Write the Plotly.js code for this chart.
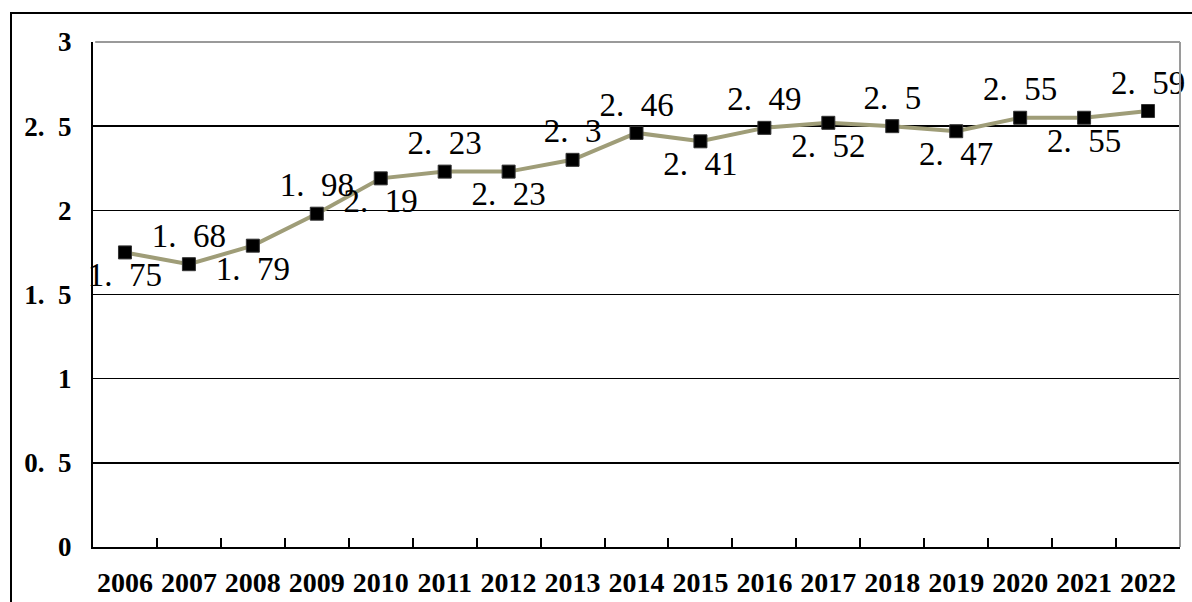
<!DOCTYPE html>
<html>
<head>
<meta charset="utf-8">
<script src="https://cdn.plot.ly/plotly-3.0.1.min.js"></script>
<style>
  html, body { margin: 0; padding: 0; background: #fff; }
  #frame { position: absolute; left: 10px; top: 12px; width: 1182px; height: 590px;
           border-left: 2px solid #000; border-top: 2px solid #000; overflow: hidden; }
  #chart { width: 1180px; height: 588px; }
</style>
</head>
<body>
<div id="frame"><div id="chart"></div></div>
<script>
const years = ['2006','2007','2008','2009','2010','2011','2012','2013','2014','2015','2016','2017','2018','2019','2020','2021','2022'];
const values = [1.75, 1.68, 1.79, 1.98, 2.19, 2.23, 2.23, 2.3, 2.46, 2.41, 2.49, 2.52, 2.5, 2.47, 2.55, 2.55, 2.59];
const labelSide = ['bottom','top','bottom','top','bottom','top','bottom','top','top','bottom','top','bottom','top','bottom','top','bottom','top'];
const yTicks = [0, 0.5, 1, 1.5, 2, 2.5, 3];

const SERIF = 'Liberation Serif';
const fmt = (v, sp) => String(v).replace('.', '.' + sp);

const trace = {
  type: 'scatter',
  mode: 'lines+markers+text',
  x: years,
  y: values,
  text: values.map(v => fmt(v, '\u2002')),
  textposition: labelSide.map(s => s + ' center'),
  textfont: { family: SERIF, size: 33, color: '#000' },
  line: { color: '#9f9d78', width: 4 },
  marker: { symbol: 'square', size: 13, color: '#000', line: { color: '#333', width: 1 } },
  cliponaxis: false,
  hoverinfo: 'skip'
};

const layout = {
  width: 1180, height: 588,
  margin: { l: 81, r: 12, t: 28, b: 55 },
  paper_bgcolor: '#fff', plot_bgcolor: '#fff',
  showlegend: false,
  font: { family: SERIF, color: '#000' },
  xaxis: {
    type: 'category',
    range: [-0.5, years.length - 0.5],
    autorange: false,
    showline: true, linecolor: '#000', linewidth: 2,
    showgrid: false, zeroline: false,
    ticks: 'inside', tickson: 'boundaries', ticklen: 9, tickcolor: '#000', tickwidth: 2,
    tickangle: 0,
    ticklabelstandoff: 9,
    tickfont: { family: SERIF, size: 28, color: '#000', weight: 'bold' }
  },
  yaxis: {
    range: [0, 3],
    autorange: false,
    tickvals: yTicks,
    ticktext: yTicks.map(v => fmt(v, '\u2002')),
    showline: true, linecolor: '#000', linewidth: 2,
    showgrid: true, gridcolor: '#000', gridwidth: 1.5,
    zeroline: false,
    ticks: '', ticklabelstandoff: 14,
    tickfont: { family: SERIF, size: 27, color: '#000', weight: 'bold' }
  },
  shapes: [
    { type: 'line', xref: 'paper', yref: 'paper', x0: 0.002, x1: 1, y0: 1, y1: 1, layer: 'above',
      line: { color: '#9a9a9a', width: 2 } },
    { type: 'line', xref: 'paper', yref: 'paper', x0: 1, x1: 1, y0: 0, y1: 1, layer: 'above',
      line: { color: '#9a9a9a', width: 2 } }
  ]
};

Plotly.newPlot('chart', [trace], layout, { displayModeBar: false, staticPlot: true });
</script>
</body>
</html>
